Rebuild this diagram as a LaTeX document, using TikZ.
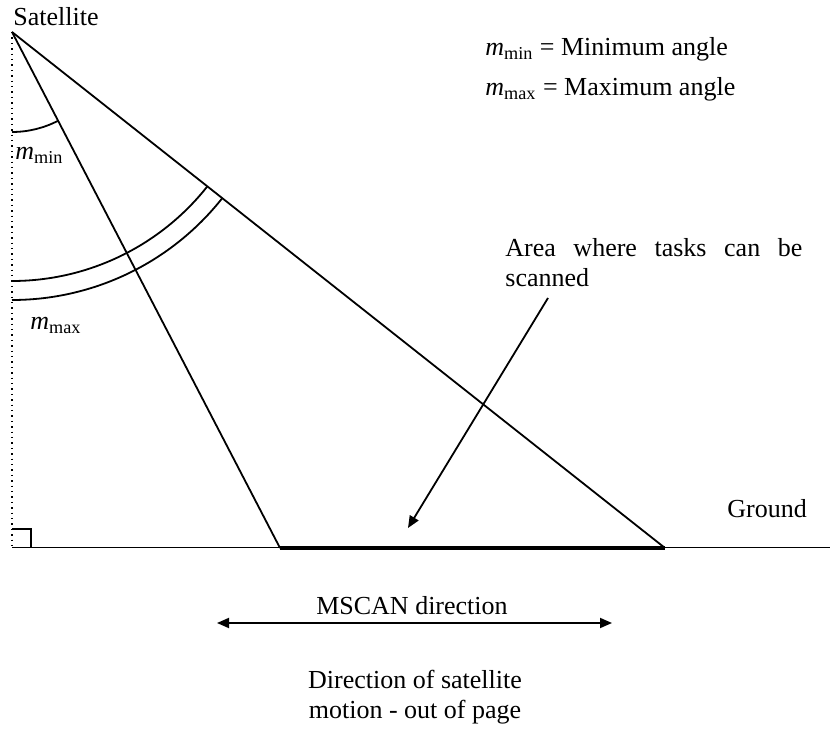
\documentclass[tikz,border=0pt]{standalone}
\usepackage{fontspec}
\setmainfont{Liberation Serif}
\usetikzlibrary{arrows.meta,positioning}

\begin{document}
\begin{tikzpicture}[x=0.5pt, y=-0.5pt, font=\fontsize{13}{15}\selectfont,
  ray/.style={line width=0.9pt},
  lbl/.style={anchor=base west, inner sep=0pt},
  tip/.style={-{Triangle[length=6pt, width=5pt]}, line width=0.9pt}]
  \useasboundingbox (0,0) rectangle (830,731);
  % Points
  \coordinate (S) at (12,32);
  \coordinate (O) at (12,548);
  \coordinate (Pmin) at (280,548);
  \coordinate (Pmax) at (665,548);
  \coordinate (E) at (830,548);
  % Lines
  \draw[dotted, line width=0.7pt] (S) -- (O);
  \draw[line width=0.5pt] (O) -- (E);
  \draw[line width=1.6pt] (Pmin) -- (Pmax);
  \draw[ray] (S) -- (Pmin);
  \draw[ray] (S) -- (Pmax);
  \draw[ray] (O) ++(0,-19) -| ++(19,19);
  % Angle arcs
  \draw[ray] (S) ++(0,100) arc[start angle=-90, end angle=-62.55, radius=50pt];
  \draw[ray] (S) ++(0,249) arc[start angle=-90, end angle=-38.32, radius=124.5pt];
  \draw[ray] (S) ++(0,268) arc[start angle=-90, end angle=-38.32, radius=134pt];
  % Labels
  \node[lbl] (sat) at (13,26) {Satellite};
  \node[lbl] (amin) at (15,160) {\textit{m}\textsubscript{min}};
  \node[lbl] (amax) at (30,330) {\textit{m}\textsubscript{max}};
  \node[lbl] (kmin) at (485,56) {\textit{m}\textsubscript{min} = Minimum angle};
  \node[lbl] (kmax) at (485,96) {\textit{m}\textsubscript{max} = Maximum angle};
  \node[lbl] (gnd) at (727,518) {Ground};
  \node[anchor=north west, inner sep=0pt, text width=148.5pt, align=justify] (area) at (505,238)
    {\spaceskip=0.25em plus 2em Area where tasks can be scanned};
  \coordinate (A0) at (548,298);
  \coordinate (A1) at (408,528);
  \draw[tip] (A0) -- (A1);
  % Scan direction
  \coordinate (M0) at (217,623);
  \coordinate (M1) at (612,623);
  \draw[tip, {Triangle[length=6pt, width=5pt]}-{Triangle[length=6pt, width=5pt]}] (M0) -- (M1);
  \node[anchor=base, inner sep=0pt] (scan) at (412,615) {MSCAN direction};
  \node[anchor=north, inner sep=0pt, align=center] (motion) at (415,670)
    {Direction of satellite\\motion - out of page};
\end{tikzpicture}
\end{document}
